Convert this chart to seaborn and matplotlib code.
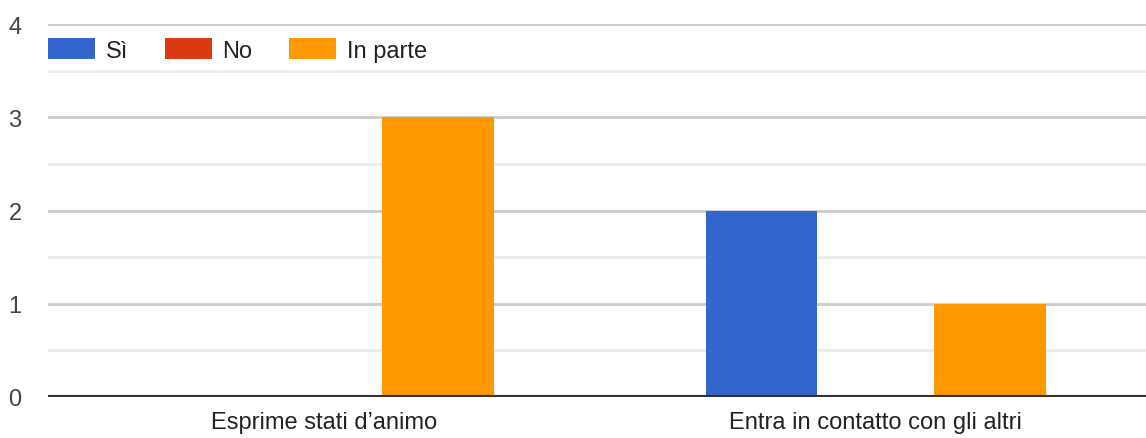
import pandas as pd
import seaborn as sns
import matplotlib.pyplot as plt

categories = ["Esprime stati d\u2019animo", "Entra in contatto con gli altri"]
risposte = ["Sì", "No", "In parte"]
si_values = [0, 2]
no_values = [0, 0]
in_parte_values = [3, 1]
colors = ["#3366CC", "#DC3912", "#FF9900"]

df = pd.DataFrame({
    "Categoria": categories * 3,
    "Risposta": [r for r in risposte for _ in categories],
    "Valore": si_values + no_values + in_parte_values,
})

sns.set_style("white")
plt.rcParams['font.family'] = ['Liberation Sans', 'DejaVu Sans']

fig = plt.figure(figsize=(11.46, 4.39), dpi=100)
ax = fig.add_axes([48 / 1146, 41 / 439, 1098 / 1146, 373 / 439])

sns.barplot(data=df, x="Categoria", y="Valore", hue="Risposta", hue_order=risposte,
            palette=colors, width=0.62, gap=0.02, linewidth=0, saturation=1, ax=ax)

ax.set_xlim(-0.5, 1.49)
ax.set_ylim(0, 4)
ax.set_yticks([0, 1, 2, 3, 4])
ax.set_yticks([0.5, 1.5, 2.5, 3.5], minor=True)
ax.grid(axis='y', which='major', color='#cccccc', linewidth=2)
ax.grid(axis='y', which='minor', color='#ebebeb', linewidth=2)
ax.set_axisbelow(True)
ax.axhline(0, color='#333333', linewidth=3, zorder=5)

for s in ax.spines.values():
    s.set_visible(False)
ax.tick_params(axis='y', which='both', length=0, pad=19, labelsize=17, labelcolor='#444444')
ax.tick_params(axis='x', length=0, pad=10, labelsize=17, labelcolor='#222222')
ax.set_xlabel("")
ax.set_ylabel("")

ax.legend(loc='center left', bbox_to_anchor=(0.0, 0.93), ncol=3, frameon=False,
          fontsize=17, handlelength=2.0, handleheight=1.0, handletextpad=0.45,
          columnspacing=1.55, labelcolor='#222222', borderaxespad=0, borderpad=0)

fig.savefig("out.png", dpi=100)
